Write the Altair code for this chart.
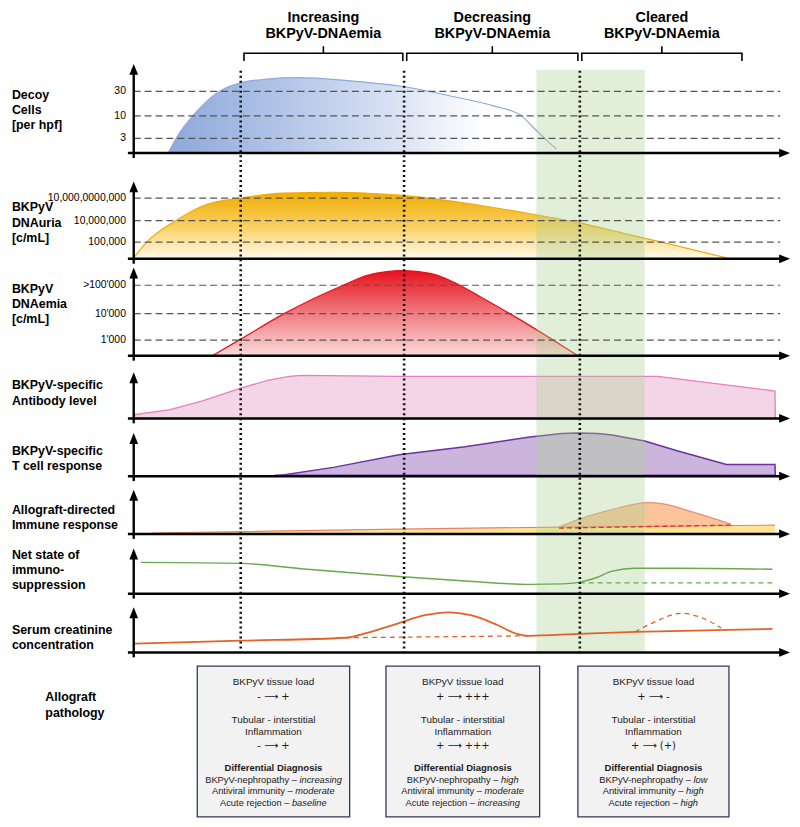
import altair as alt
import numpy as np
import pandas as pd

# ---------------- layout of the schematic (time units / row units) ----------------
T_MIN, T_MAX = -19.39, 101.52      # time axis (0 = y-axis of every panel)
ROW_MIN, ROW_MAX = 1, 826          # vertical layout units, top -> bottom
W, H = 790, 814
FONT = "Liberation Sans"

phase_bounds = [16.5, 41.7, 68.8]
green_window = [62.1, 78.8]
green_rows = [61, 657]
phase_title = ["Increasing", "Decreasing", "Cleared"]
phase_subtitle = ["BKPyV-DNAemia", "BKPyV-DNAemia", "BKPyV-DNAemia"]
bracket_left = [17.0, 42.1, 69.1]
bracket_right = [41.5, 68.5, 93.8]

panel_base = [146, 254, 353, 417, 476, 535, 596, 656]
panel_top = [55, 175, 263, 370, 432, 490, 550, 610]
panel_label = [
    ["Decoy", "Cells", "[per hpf]"],
    ["BKPyV", "DNAuria", "[c/mL]"],
    ["BKPyV", "DNAemia", "[c/mL]"],
    ["BKPyV-specific", "Antibody level"],
    ["BKPyV-specific", "T cell response"],
    ["Allograft-directed", "Immune response"],
    ["Net state of", "immuno-", "suppression"],
    ["Serum creatinine", "concentration"],
]
panel_label_mid = [102, 217, 300, 391, 458, 518, 572, 640.5]

decoy_levels = [63, 38, 15]
decoy_ticks = ["30", "10", "3"]
uria_levels = [62, 39, 17]
uria_ticks = ["10,000,0000,000", "10,000,000", "100,000"]
emia_levels = [72, 43, 16]
emia_ticks = [">100'000", "10'000", "1'000"]

# ---------------- series (level above each panel's baseline) ----------------
decoy_t = [5.3, 6.8, 9.1, 13.2, 16.7, 20.5, 25.3, 33.0, 41.4, 50.5, 55.6, 59.8, 62.1, 63.7, 65.2]
decoy_v = [0, 18, 38, 63, 72, 75.5, 77, 74, 68, 56, 48, 38, 23, 13, 4]

uria_t = [0, 2.0, 6.5, 10.6, 16.5, 23.2, 30.8, 40.9, 51.1, 61.1, 68.6, 76.2, 81.4, 91.4]
uria_v = [1, 17, 39, 54, 62, 67, 68, 65, 57, 46, 37, 25, 17, 1]

emia_t = [12.1, 16.5, 23.2, 32.3, 36.0, 39.0, 41.5, 45.9, 50.0, 53.5, 58.0, 64.7, 68.5]
emia_v = [0, 17, 43, 72, 82, 86, 87, 84, 73, 60, 43, 16, 0]

ab_t = [0, 0.15, 5.6, 10.6, 16.5, 20.8, 24.0, 25.8, 40.9, 80.8, 98.9, 98.95]
ab_v = [0, 4, 9, 18, 31, 39, 43, 44, 43, 43, 28, 0]

tc_t = [21.7, 30.8, 40.9, 51.1, 61.1, 66.0, 68.6, 71.5, 73.8, 78.8, 83.8, 91.4, 98.9, 98.95]
tc_v = [0, 9, 22, 30, 40, 43.5, 44, 43.5, 42, 36, 26, 12, 12, 0]

allo_t = [2.7, 40.9, 65.6, 98.9, 98.95]
allo_v = [1, 5, 7, 9, 0]
hump_t = [65.6, 68.6, 73.8, 79.3, 81.4, 86.4, 92.1]
hump_v = [7, 15, 25, 32, 31, 22, 10]
allo_dash_t = [65.6, 92.1]
allo_dash_v = [6, 9]

net_t = [1.1, 16.5, 25.8, 40.9, 51.1, 61.1, 66.1, 68.6, 71.2, 73.8, 77.3, 84.0, 98.5]
net_v = [32, 31, 25.5, 17.5, 13, 9.5, 10, 11.5, 16, 23, 26, 26, 25]
net_dash_t = [68.8, 98.5]
net_dash_v = [11, 11]

crea_t = [0.2, 16.5, 32.6, 36.0, 40.9, 44.9, 48.5, 52.0, 56.1, 59.1, 60.9, 68.6, 77.3, 98.5]
crea_v = [9, 12, 15, 20, 30, 38, 41, 38, 28, 19, 17, 19, 21, 24]
crea_dash1_t = [32.6, 60.9]
crea_dash1_v = [15, 17]
crea_dash2_t = [77.3, 80.3, 84.4, 87.4, 90.6]
crea_dash2_v = [21, 31, 40, 36, 25]

# ---------------- allograft pathology boxes ----------------
box_left = [9.8, 38.9, 68.5]
box_right = [33.3, 62.6, 91.8]
box_rows = [670, 824]
load_vals = ["- \u27f6 +", "+ \u27f6 +++", "+ \u27f6 -"]
infl_vals = ["- \u27f6 +", "+ \u27f6 +++", "+ \u27f6 (+)"]
nephro_vals = ["increasing", "high", "low"]
antiviral_vals = ["moderate", "moderate", "high"]
rejection_vals = ["baseline", "increasing", "high"]
text_rows = [686, 702, 725, 737, 752, 774, 786.5, 798, 809.5]

# ---------------- encodings ----------------
X = alt.X("t:Q", scale=alt.Scale(domain=[T_MIN, T_MAX], nice=False, zero=False), axis=None)
Y = alt.Y("y:Q", scale=alt.Scale(domain=[ROW_MIN, ROW_MAX], reverse=True, nice=False, zero=False), axis=None)
PX = 6.6  # reference pixels per time unit


def sdf(t, v, base):
    return pd.DataFrame({"t": t, "y": [base - a for a in v], "y0": [base] * len(t)})


def grad(stops, x2=0, y2=1):
    return alt.LinearGradient(gradient="linear",
                              stops=[alt.GradientStop(color=c, offset=o) for o, c in stops],
                              x1=0, y1=0, x2=x2, y2=y2)


def area(df, fill, interp="monotone", opacity=1.0):
    return alt.Chart(df).mark_area(color=fill, interpolate=interp, opacity=opacity).encode(
        x=X, y=Y, y2=alt.Y2("y0:Q"))


def line(df, color, width=1.3, interp="monotone", dash=None):
    kw = dict(color=color, strokeWidth=width, interpolate=interp)
    if dash:
        kw["strokeDash"] = dash
    return alt.Chart(df).mark_line(**kw).encode(x=X, y=Y)


def text_layer(df, **kw):
    base = dict(font=FONT, color="black", baseline="middle")
    base.update(kw)
    return alt.Chart(df).mark_text(**base).encode(x=X, y=Y, text="txt:N")


layers = []

# boxes
bx = pd.DataFrame({"t": box_left, "t2": box_right, "y": [box_rows[0]] * 3, "y2": [box_rows[1]] * 3})
layers.append(alt.Chart(bx).mark_rect(fill="#F2F2F2", stroke="#2E3A59", strokeWidth=1.3).encode(
    x=X, x2="t2:Q", y=Y, y2="y2:Q"))

# areas + outlines
B = dict(zip(["decoy", "uria", "emia", "ab", "tc", "allo", "net", "crea"], panel_base))
d_decoy = sdf(decoy_t, decoy_v, B["decoy"])
d_uria = sdf(uria_t, uria_v, B["uria"])
d_emia = sdf(emia_t, emia_v, B["emia"])
d_ab = sdf(ab_t, ab_v, B["ab"])
d_tc = sdf(tc_t, tc_v, B["tc"])
d_allo = sdf(allo_t, allo_v, B["allo"])
d_hump = sdf(hump_t, hump_v, B["allo"])
d_hump["y0"] = [B["allo"] - a for a in np.interp(hump_t, allo_t[:-1], allo_v[:-1])]
tc_floor = pd.DataFrame({"t": [tc_t[0], tc_t[-1]], "y": [B["tc"] - 1, B["tc"] - 1]})

layers += [
    area(d_decoy, grad([(0, "#8DA8DA"), (0.3, "#B3C5E8"), (0.6, "#DCE4F4"), (0.82, "#FFFFFF")], x2=1, y2=0)),
    area(d_uria, grad([(0, "#F0AC00"), (0.5, "#F8CF5E"), (1, "#FFFAEC")])),
    area(d_emia, grad([(0, "#E5121C"), (0.5, "#F07B80"), (1, "#FBDADB")])),
    area(d_ab, "#F4D4E7", interp="linear"),
    area(d_tc, "#CCB5DC", interp="linear"),
    area(d_allo, "#FFE493", interp="linear"),
    area(d_hump, "#F9C49C"),
    line(d_decoy, "#8EA9DB", 1.2),
    line(d_uria, "#E9AC10", 1.2),
    line(d_emia, "#E5121C", 1.3),
    line(d_ab, "#E57FC3", 1.3, interp="linear"),
    line(d_tc, "#7030A0", 1.5, interp="linear"),
    line(tc_floor, "#7030A0", 1.5, interp="linear"),
    line(d_allo.iloc[:-1], "#E8806E", 1.2, interp="linear"),
    line(d_hump, "#EA8E78", 1.2),
]

# green window
gw = pd.DataFrame({"t": [green_window[0]], "t2": [green_window[1]], "y": [green_rows[0]], "y2": [green_rows[1]]})
layers.append(alt.Chart(gw).mark_rect(color="#A9D18E", opacity=0.35).encode(x=X, x2="t2:Q", y=Y, y2="y2:Q"))

# dashed guide lines + tick labels
guides, ticks = [], []
for base, lev, lab in [(B["decoy"], decoy_levels, decoy_ticks), (B["uria"], uria_levels, uria_ticks),
                       (B["emia"], emia_levels, emia_ticks)]:
    for l, s in zip(lev, lab):
        guides.append({"t": 0, "t2": 99.7, "y": base - l})
        ticks.append({"t": -1.2, "y": base - l, "txt": s})
layers.append(alt.Chart(pd.DataFrame(guides)).mark_rule(color="#555555", strokeWidth=1.2, strokeDash=[7, 4]).encode(
    x=X, x2="t2:Q", y=Y))
layers.append(text_layer(pd.DataFrame(ticks), align="right", fontSize=10.5))

# lines of net immunosuppression and creatinine
layers += [
    line(sdf(allo_dash_t, allo_dash_v, B["allo"]), "#E0302A", 1.3, interp="linear", dash=[5, 3]),
    line(sdf(net_t, net_v, B["net"]), "#6AA84F", 1.4),
    line(sdf(net_dash_t, net_dash_v, B["net"]), "#6AA84F", 1.3, interp="linear", dash=[5, 4]),
    line(sdf(crea_t, crea_v, B["crea"]), "#E2622A", 1.8),
    line(sdf(crea_dash1_t, crea_dash1_v, B["crea"]), "#E2622A", 1.3, interp="linear", dash=[5, 4]),
    line(sdf(crea_dash2_t, crea_dash2_v, B["crea"]), "#E2622A", 1.3, dash=[5, 4]),
]

# axes with arrows
haxis = pd.DataFrame({"t": [-0.9] * 8, "t2": [99.9] * 8, "y": panel_base})
vaxis = pd.DataFrame({"t": [0] * 8, "y": [b + 5 for b in panel_base], "y2": [tp + 8 for tp in panel_top]})
layers.append(alt.Chart(haxis).mark_rule(color="black", strokeWidth=2.6).encode(x=X, x2="t2:Q", y=Y))
layers.append(alt.Chart(vaxis).mark_rule(color="black", strokeWidth=2.4).encode(x=X, y=Y, y2="y2:Q"))
harrow = pd.DataFrame({"t": [(798 - 5.5 - 130) / PX] * 8, "y": panel_base})
varrow = pd.DataFrame({"t": [0] * 8, "y": [tp + 5.5 for tp in panel_top]})
layers.append(alt.Chart(harrow).mark_point(shape="M -1 -0.8 L 1 0 L -1 0.8 Z", filled=True, size=121,
                                             color="black", opacity=1, strokeWidth=0).encode(x=X, y=Y))
layers.append(alt.Chart(varrow).mark_point(shape="M -0.8 1 L 0 -1 L 0.8 1 Z", filled=True, size=121,
                                             color="black", opacity=1, strokeWidth=0).encode(x=X, y=Y))

# dotted phase boundaries
dots = pd.DataFrame({"t": phase_bounds, "y": [62] * 3, "y2": [658] * 3})
layers.append(alt.Chart(dots).mark_rule(color="#111111", strokeWidth=2.6, strokeDash=[2, 3]).encode(
    x=X, y=Y, y2="y2:Q"))

# brackets + headers
br = []
for i, (l, r) in enumerate(zip(bracket_left, bracket_right)):
    c = (l + r) / 2
    for k, (tt, yy) in enumerate([(l, 52), (l, 44), (c, 44), (c, 37), (c, 44), (r, 44), (r, 52)]):
        br.append({"t": tt, "y": yy, "b": i, "o": k})
layers.append(alt.Chart(pd.DataFrame(br)).mark_line(color="black", strokeWidth=1.6).encode(
    x=X, y=Y, detail="b:N", order="o:Q"))
hd = []
for l, r, a, s in zip(bracket_left, bracket_right, phase_title, phase_subtitle):
    hd.append({"t": (l + r) / 2, "y": 8, "txt": a})
    hd.append({"t": (l + r) / 2, "y": 24, "txt": s})
layers.append(text_layer(pd.DataFrame(hd), align="center", fontSize=14.5, fontWeight="bold"))

# panel labels
lab = []
for lines_, mid in zip(panel_label, panel_label_mid):
    n = len(lines_)
    for k, s in enumerate(lines_):
        lab.append({"t": (6 - 130) / PX, "y": mid + (k - (n - 1) / 2) * 15.5, "txt": s})
lab.append({"t": (40 - 130) / PX, "y": 702, "txt": "Allograft"})
lab.append({"t": (40 - 130) / PX, "y": 718, "txt": "pathology"})
layers.append(text_layer(pd.DataFrame(lab), align="left", fontSize=12.5, fontWeight="bold"))

# box texts
AW = {' ': 278, '-': 333, '\u2013': 556, '(': 333, ')': 333, '+': 584, 'A': 667, 'B': 667, 'C': 722,
      'D': 722, 'K': 667, 'P': 667, 'V': 667, 'T': 611, 'I': 278, 'a': 556, 'b': 556, 'c': 500, 'd': 556,
      'e': 556, 'f': 278, 'g': 556, 'h': 556, 'i': 222, 'j': 222, 'k': 500, 'l': 222, 'm': 833, 'n': 556,
      'o': 556, 'p': 556, 'r': 333, 's': 500, 't': 278, 'u': 556, 'v': 500, 'w': 722, 'x': 500, 'y': 500}


def tw(s, fs):
    return sum(AW.get(ch, 556) for ch in s) * fs / 1000.0


plain, arrows, bold, norm_r, ital_l = [], [], [], [], []
DFS = 9.4
for i in range(3):
    c = (box_left[i] + box_right[i]) / 2
    plain += [{"t": c, "y": text_rows[0], "txt": "BKPyV tissue load"},
              {"t": c, "y": text_rows[2], "txt": "Tubular - interstitial"},
              {"t": c, "y": text_rows[3], "txt": "Inflammation"}]
    arrows += [{"t": c, "y": text_rows[1], "txt": load_vals[i]},
               {"t": c, "y": text_rows[4], "txt": infl_vals[i]}]
    bold.append({"t": c, "y": text_rows[5], "txt": "Differential Diagnosis"})
    for row, head, val in [(text_rows[6], "BKPyV-nephropathy \u2013", nephro_vals[i]),
                           (text_rows[7], "Antiviral immunity \u2013", antiviral_vals[i]),
                           (text_rows[8], "Acute rejection \u2013", rejection_vals[i])]:
        wn, ws, wi = tw(head, DFS), tw(" ", DFS), tw(val, DFS)
        cpx = 130 + c * PX
        left = cpx - (wn + ws + wi) / 2
        norm_r.append({"t": (left + wn - 130) / PX, "y": row, "txt": head})
        ital_l.append({"t": (left + wn + ws - 130) / PX, "y": row, "txt": val})

layers.append(text_layer(pd.DataFrame(plain), align="center", fontSize=10, color="#1a1a1a"))
layers.append(text_layer(pd.DataFrame(arrows), align="center", fontSize=10, color="#1a1a1a",
                         font="DejaVu Sans"))
layers.append(text_layer(pd.DataFrame(bold), align="center", fontSize=9.6, fontWeight="bold", color="#1a1a1a"))
layers.append(text_layer(pd.DataFrame(norm_r), align="right", fontSize=DFS, color="#1a1a1a"))
layers.append(text_layer(pd.DataFrame(ital_l), align="left", fontSize=DFS, fontStyle="italic", color="#1a1a1a"))

chart = alt.layer(*layers).properties(
    width=W, height=H, padding=0, background="white",
    autosize=alt.AutoSizeParams(type="none"),
).configure_view(stroke=None)

chart.save("out.html", embed_options={"renderer": "svg", "actions": False})
